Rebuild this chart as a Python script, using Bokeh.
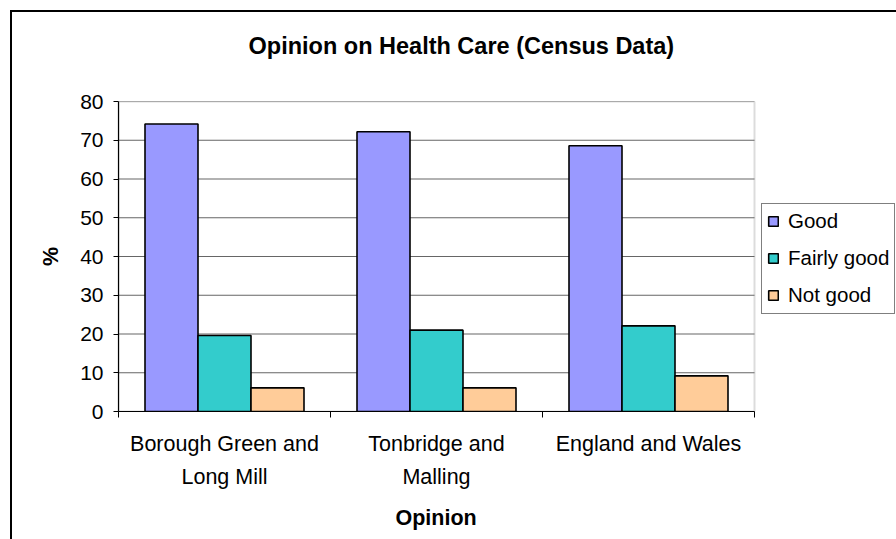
import numpy as np
from bokeh.plotting import figure
from bokeh.models import (FixedTicker, Legend, LegendItem, ColumnDataSource, Title,
                          InlineStyleSheet, BoxAnnotation, Range1d)
from bokeh.embed import file_html
from bokeh.resources import INLINE

# ---- data ----
categories = ["Borough Green and Long Mill", "Tonbridge and Malling", "England and Wales"]
category_labels = ["Borough Green and\nLong Mill", "Tonbridge and\nMalling", "England and Wales"]
series_names = ["Good", "Fairly good", "Not good"]
good = [74.2, 72.2, 68.6]
fairly_good = [19.6, 21.0, 22.1]
not_good = [6.1, 6.1, 9.2]
series_colors = ["#9999FF", "#33CCCC", "#FFCC99"]
y_ticks = [0, 10, 20, 30, 40, 50, 60, 70, 80]
title_text = "Opinion on Health Care (Census Data)"
x_title = "Opinion"
y_title = "%"

FONT = "Liberation Sans"

chart_border = InlineStyleSheet(css="""
:host { position: relative; }
:host::after {
  content: '';
  position: absolute;
  left: 9.5px; top: 10px; right: 0; bottom: 0;
  border-left: 2px solid black;
  border-top: 2px solid black;
  pointer-events: none;
}
""")

n_cat = len(categories)
y_max = y_ticks[-1]
# plot area is 636px for the categories; the frame continues 142px further right to hold the legend
x_end = n_cat * (636 + 142) / 636

p = figure(width=896, height=539, x_range=Range1d(0, x_end), y_range=Range1d(0, y_max),
           output_backend="svg", toolbar_location=None,
           min_border_left=118, min_border_right=0,
           min_border_top=101, min_border_bottom=128,
           stylesheets=[chart_border])
p.title = None

title = Title(text=title_text, align="left", offset=130, standoff=0,
              padding=(0, 0, 0, 43),
              text_font=FONT, text_font_size="23.5px", text_font_style="bold",
              text_color="black")
p.add_layout(title, "above")

# plot-area border (grey top and right edges), drawn under everything
plot_area = BoxAnnotation(left=0, right=n_cat, bottom=0, top=y_max,
                          fill_alpha=0, line_color="#8c8c8c", line_width=2,
                          level="underlay")
p.add_layout(plot_area)

# horizontal gridlines limited to the plot area
p.segment(x0=[0] * len(y_ticks), x1=[n_cat] * len(y_ticks), y0=y_ticks, y1=y_ticks,
          line_color="#666666", line_width=1.2)

centers = np.arange(n_cat) + 0.5
bar_w = 0.25
series_values = [good, fairly_good, not_good]
renderers = []
for j, (vals, color) in enumerate(zip(series_values, series_colors)):
    src = ColumnDataSource(dict(x=centers + (j - 1) * bar_w, top=vals))
    r = p.vbar(x="x", top="top", bottom=0, width=bar_w, source=src,
               fill_color=color, line_color="black", line_width=1.6)
    renderers.append(r)

# axes
p.xaxis.bounds = (0, n_cat)
p.xaxis.ticker = FixedTicker(ticks=list(centers), minor_ticks=list(range(n_cat + 1)))
p.xaxis.major_label_overrides = {float(c): lab for c, lab in zip(centers, category_labels)}
p.xaxis.major_tick_line_color = None
p.xaxis.minor_tick_line_color = "black"
p.xaxis.minor_tick_out = 6
p.xaxis.minor_tick_in = 0
p.xaxis.major_label_standoff = 14
p.xaxis.major_label_text_line_height = 1.4
p.xaxis.axis_label = None

p.yaxis.ticker = FixedTicker(ticks=y_ticks)
p.yaxis.major_tick_out = 5
p.yaxis.major_tick_in = 0
p.yaxis.minor_tick_line_color = None
p.yaxis.major_label_standoff = 10
p.yaxis.axis_label = y_title
p.yaxis.axis_label_standoff = 14

for ax in (p.xaxis[0], p.yaxis[0]):
    ax.axis_line_color = "black"
    ax.axis_line_width = 1.2
    ax.major_tick_line_width = 1
    ax.major_label_text_font = FONT
    ax.major_label_text_color = "black"
    ax.axis_label_text_font = FONT
    ax.axis_label_text_font_size = "21.5px"
    ax.axis_label_text_font_style = "bold"
    ax.axis_label_text_color = "black"
p.xaxis.major_label_text_font_size = "21.5px"
p.yaxis.major_label_text_font_size = "21px"

# x-axis title, centred under the plot area (not under the legend area)
x_label = Title(text=x_title, align="left", offset=277, standoff=0,
                padding=(0, 0, 11, 0),
                text_font=FONT, text_font_size="21.5px", text_font_style="bold",
                text_color="black")
p.add_layout(x_label, "below")

p.grid.visible = False
p.outline_line_color = None
p.background_fill_color = "white"
p.border_fill_color = "white"

legend = Legend(items=[LegendItem(label=n, renderers=[r]) for n, r in zip(series_names, renderers)],
                location=(643, 97.5), orientation="vertical",
                border_line_color="black", border_line_width=1,
                padding=5, spacing=12, label_height=25, glyph_height=12, glyph_width=12,
                label_standoff=9, label_text_font=FONT, label_text_font_size="20.5px",
                label_text_color="black",
                margin=0, background_fill_color="white", background_fill_alpha=1)
p.add_layout(legend, "center")

open("out.html", "w").write(file_html(p, INLINE))
